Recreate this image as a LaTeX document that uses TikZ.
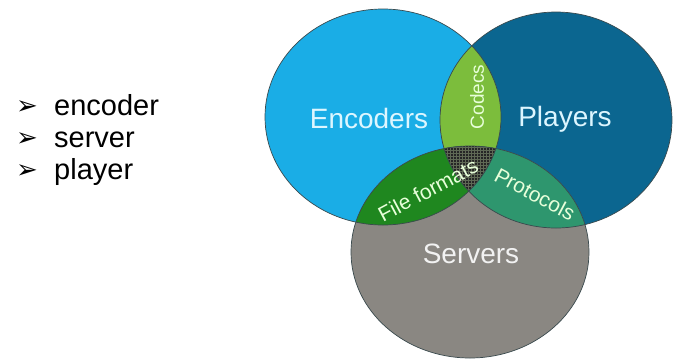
\documentclass[tikz,border=0pt]{standalone}
\usepackage{fontspec}
\setmainfont{Liberation Sans}
\newfontfamily\symfont{DejaVu Sans}
\usetikzlibrary{patterns}
\definecolor{encC}{HTML}{1AADE6}
\definecolor{plyC}{HTML}{0B6690}
\definecolor{srvC}{HTML}{8A8782}
\definecolor{codC}{HTML}{7CBD3C}
\definecolor{filC}{HTML}{1F871F}
\definecolor{proC}{HTML}{2E966E}
\definecolor{edgeC}{HTML}{3A4A4E}
\definecolor{bigtxt}{HTML}{DDF6FF}
\definecolor{smalltxt}{HTML}{E8FFDA}
\begin{document}
\begin{tikzpicture}[x=1pt,y=-1pt,
  bigLabel/.style={text=bigtxt,font=\fontsize{28}{30}\selectfont,inner sep=0pt},
  smallLabel/.style={text=smalltxt,font=\fontsize{21}{23}\selectfont,inner sep=0pt},
  bulletLine/.style={anchor=base west,font=\fontsize{29}{32}\selectfont,inner sep=0pt},
  arrowMark/.style={anchor=base west,font=\symfont\fontsize{26}{28}\selectfont,inner sep=0pt},
  outline/.style={draw=edgeC,line width=0.7pt}]
\useasboundingbox (0,0) rectangle (673,360);
\def\vennE{(383,117) ellipse [x radius=118pt, y radius=108pt]}
\def\vennP{(556,120) ellipse [x radius=116pt, y radius=108pt]}
\def\vennS{(470,252) ellipse [x radius=119pt, y radius=106pt]}
% base fills
\fill[encC] \vennE;
\fill[plyC] \vennP;
\fill[srvC] \vennS;
% pairwise intersections
\begin{scope}\clip \vennE; \fill[codC] \vennP; \end{scope}
\begin{scope}\clip \vennE; \fill[filC] \vennS; \end{scope}
\begin{scope}\clip \vennP; \fill[proC] \vennS; \end{scope}
% triple intersection
\begin{scope}\clip \vennE; \clip \vennP;
  \fill[black!85] \vennS;
  \fill[pattern=grid,pattern color={rgb,255:red,95;green,105;blue,85}] \vennS;
\end{scope}
% outlines
\draw[outline] \vennE;
\draw[outline] \vennP;
\draw[outline] \vennS;
% labels
\node[bigLabel] (enc) at (369,118) {Encoders};
\node[bigLabel] (ply) at (565,119) {Players};
\node[bigLabel,text=white!95!black] (srv) at (471,254) {Servers};
\node[smallLabel,font=\fontsize{19}{21}\selectfont,rotate=90] (cod) at (477,97) {Codecs};
\node[smallLabel,rotate=28] (fil) at (428,190) {File formats};
\node[smallLabel,rotate=-28] (pro) at (535,194) {Protocols};
% bullet list
\node[arrowMark] (a1) at (16,114) {➢};
\node[arrowMark] (a2) at (16,146) {➢};
\node[arrowMark] (a3) at (16,178) {➢};
\node[bulletLine] (b1) at (54,115) {encoder};
\node[bulletLine] (b2) at (54,147) {server};
\node[bulletLine] (b3) at (54,179) {player};
\end{tikzpicture}
\end{document}
